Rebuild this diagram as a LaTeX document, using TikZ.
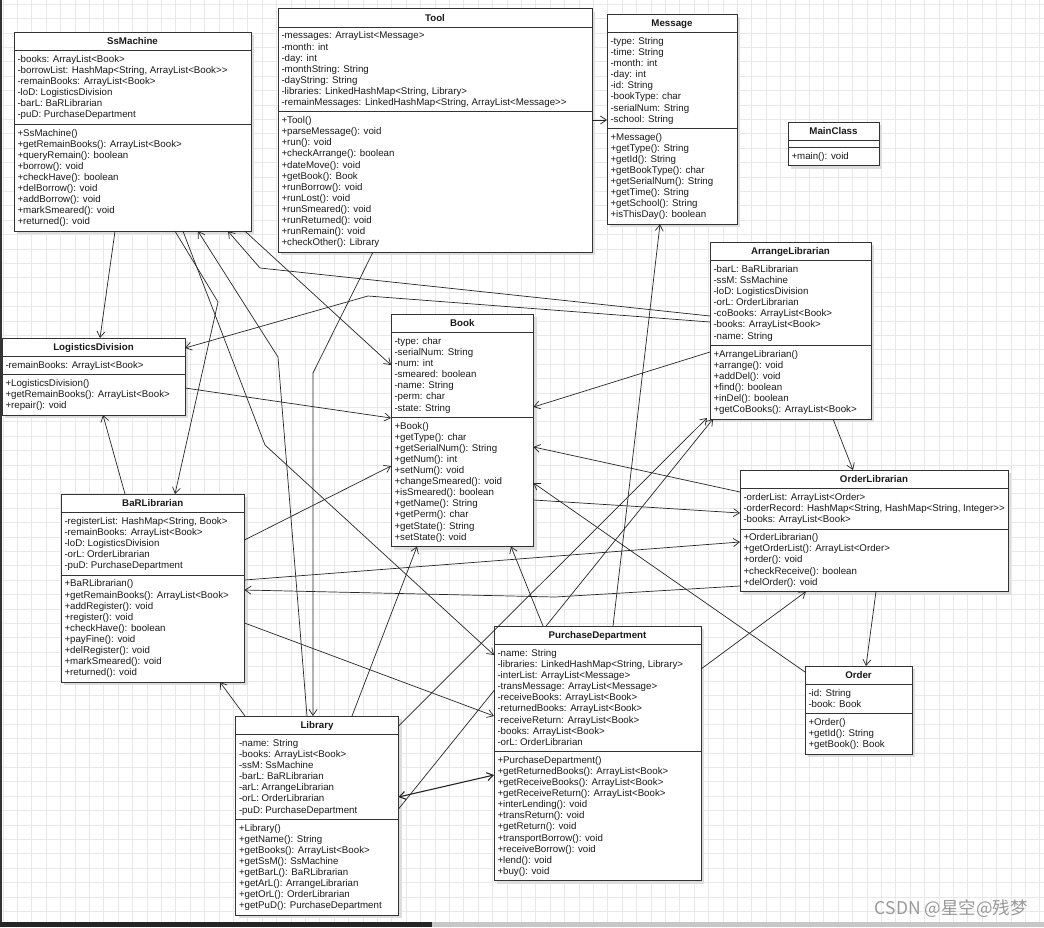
\documentclass[tikz,border=0pt]{standalone}
\usepackage{fontspec}
\setmainfont{Liberation Sans}[Ligatures=TeXOff]
\newfontfamily\cjkfont{Noto Sans CJK SC}
\usetikzlibrary{arrows.meta,calc}
\definecolor{gridc}{HTML}{E8E8E8}
\definecolor{boxline}{HTML}{333333}
\definecolor{shadowc}{HTML}{DDDDDD}
\tikzset{
  classbox/.style={draw=boxline, line width=0.9pt, fill=white, rectangle, inner sep=0pt, outer sep=0pt},
  member/.style={inner sep=0pt, font=\fontsize{9.72}{11.1}\selectfont, text=black!90},
  ctitle/.style={inner sep=0pt, font=\fontsize{9.72}{11.1}\selectfont\bfseries, text=black!90},
  divider/.style={draw=boxline, line width=0.9pt},
  assoc/.style={draw=black!85, line width=0.7pt, -{Straight Barb[length=6pt,width=8pt]}},
  biassoc/.style={draw=black!85, line width=1.1pt, {Straight Barb[length=6pt,width=8pt]}-{Straight Barb[length=6pt,width=8pt]}},
}
% #1 name, #2 x, #3 y, #4 width, #5 n attrs, #6 n methods, #7 title, #8 attrs, #9 methods
\newcommand\umlclass[9]{%
  \pgfmathsetmacro\uha{11.1*#5+7}%
  \pgfmathsetmacro\uhm{11.1*#6+7}%
  \pgfmathsetmacro\uht{18.7+\uha+\uhm}%
  \fill[shadowc] ({#2+3},{#3+3}) rectangle ++(#4,\uht);
  \node[classbox, minimum width=#4pt, minimum height=\uht pt, anchor=north west] (#1) at (#2,#3) {};
  \node[ctitle, anchor=base] (#1-title) at ({#2+#4/2},{#3+12.7}) {#7};
  \draw[divider] (#2,{#3+18.7}) -- ++(#4,0);
  \draw[divider] (#2,{#3+18.7+\uha}) -- ++(#4,0);
  \ifnum#5>0
  \foreach \tx [count=\ti] in {#8} {\node[member, anchor=base west] (#1-a\ti) at ({#2+3.3},{#3+18.7+11.7+(\ti-1)*11.1}) {\tx};}
  \fi
  \foreach \tx [count=\ti] in {#9} {\node[member, anchor=base west] (#1-m\ti) at ({#2+3.3},{#3+18.7+\uha+11.7+(\ti-1)*11.1}) {\tx};}
}
\begin{document}
\begin{tikzpicture}[x=1pt,y=-1pt]
\useasboundingbox (0,0) rectangle (1044,927);
\fill[white] (0,0) rectangle (1044,927);
\foreach \gx in {2.9,17.3,...,1044} \draw[gridc, line width=0.6pt] (\gx,0) -- (\gx,927);
\foreach \gy in {4,18.4,...,927} \draw[gridc, line width=0.6pt] (0,\gy) -- (1044,\gy);
\fill[black!80] (0,0) rectangle (2,927);
\fill[black!85] (0,921.5) rectangle (432,927);
\fill[black!22] (432,921.5) rectangle (1044,927);

\umlclass{ss}{14}{32}{237}{6}{9}{SsMachine}
 {-books: ArrayList<Book>, {-borrowList: HashMap<String, ArrayList<Book>>}, -remainBooks: ArrayList<Book>, -loD: LogisticsDivision, -barL: BaRLibrarian, -puD: PurchaseDepartment}
 {+SsMachine(), +getRemainBooks(): ArrayList<Book>, +queryRemain(): boolean, +borrow(): void, +checkHave(): boolean, +delBorrow(): void, +addBorrow(): void, +markSmeared(): void, +returned(): void}

\umlclass{tool}{278}{8.5}{314}{7}{12}{Tool}
 {-messages: ArrayList<Message>, -month: int, -day: int, -monthString: String, -dayString: String, {-libraries: LinkedHashMap<String, Library>}, {-remainMessages: LinkedHashMap<String, ArrayList<Message>>}}
 {+Tool(), +parseMessage(): void, +run(): void, +checkArrange(): boolean, +dateMove(): void, +getBook(): Book, +runBorrow(): void, +runLost(): void, +runSmeared(): void, +runReturned(): void, +runRemain(): void, +checkOther(): Library}

\umlclass{msg}{607}{14}{130}{8}{8}{Message}
 {-type: String, -time: String, -month: int, -day: int, -id: String, -bookType: char, -serialNum: String, -school: String}
 {+Message(), +getType(): String, +getId(): String, +getBookType(): char, +getSerialNum(): String, +getTime(): String, +getSchool(): String, +isThisDay(): boolean}

\umlclass{main}{788}{122}{91}{0}{1}{MainClass}
 {}
 {+main(): void}

\umlclass{al}{710}{242}{161}{7}{6}{ArrangeLibrarian}
 {-barL: BaRLibrarian, -ssM: SsMachine, -loD: LogisticsDivision, -orL: OrderLibrarian, -coBooks: ArrayList<Book>, -books: ArrayList<Book>, -name: String}
 {+ArrangeLibrarian(), +arrange(): void, +addDel(): void, +find(): boolean, +inDel(): boolean, +getCoBooks(): ArrayList<Book>}

\umlclass{ld}{2}{338}{183}{1}{3}{LogisticsDivision}
 {-remainBooks: ArrayList<Book>}
 {+LogisticsDivision(), +getRemainBooks(): ArrayList<Book>, +repair(): void}

\umlclass{bk}{391}{314}{142.5}{7}{11}{Book}
 {-type: char, -serialNum: String, -num: int, -smeared: boolean, -name: String, -perm: char, -state: String}
 {+Book(), +getType(): char, +getSerialNum(): String, +getNum(): int, +setNum(): void, +changeSmeared(): void, +isSmeared(): boolean, +getName(): String, +getPerm(): char, +getState(): String, +setState(): void}

\umlclass{bar}{61}{494}{183.5}{5}{9}{BaRLibrarian}
 {{-registerList: HashMap<String, Book>}, -remainBooks: ArrayList<Book>, -loD: LogisticsDivision, -orL: OrderLibrarian, -puD: PurchaseDepartment}
 {+BaRLibrarian(), +getRemainBooks(): ArrayList<Book>, +addRegister(): void, +register(): void, +checkHave(): boolean, +payFine(): void, +delRegister(): void, +markSmeared(): void, +returned(): void}

\umlclass{ol}{740}{470}{268}{3}{5}{OrderLibrarian}
 {-orderList: ArrayList<Order>, {-orderRecord: HashMap<String, HashMap<String, Integer>>}, -books: ArrayList<Book>}
 {+OrderLibrarian(), +getOrderList(): ArrayList<Order>, +order(): void, +checkReceive(): boolean, +delOrder(): void}

\umlclass{lib}{235.5}{716}{163}{7}{8}{Library}
 {-name: String, -books: ArrayList<Book>, -ssM: SsMachine, -barL: BaRLibrarian, -arL: ArrangeLibrarian, -orL: OrderLibrarian, -puD: PurchaseDepartment}
 {+Library(), +getName(): String, +getBooks(): ArrayList<Book>, +getSsM(): SsMachine, +getBarL(): BaRLibrarian, +getArL(): ArrangeLibrarian, +getOrL(): OrderLibrarian, +getPuD(): PurchaseDepartment}

\umlclass{ord}{805}{666}{107}{2}{3}{Order}
 {-id: String, -book: Book}
 {+Order(), +getId(): String, +getBook(): Book}

% this connector runs beneath the PurchaseDepartment box
\draw[assoc] ($(lib.north east)+(0,93)$) -- ($(al.south west)+(3,0)$);

\umlclass{pd}{494}{626}{207}{9}{11}{PurchaseDepartment}
 {-name: String, {-libraries: LinkedHashMap<String, Library>}, -interList: ArrayList<Message>, -transMessage: ArrayList<Message>, -receiveBooks: ArrayList<Book>, -returnedBooks: ArrayList<Book>, -receiveReturn: ArrayList<Book>, -books: ArrayList<Book>, -orL: OrderLibrarian}
 {+PurchaseDepartment(), +getReturnedBooks(): ArrayList<Book>, +getReceiveBooks(): ArrayList<Book>, +getReceiveReturn(): ArrayList<Book>, +interLending(): void, +transReturn(): void, +getReturn(): void, +transportBorrow(): void, +receiveBorrow(): void, +lend(): void, +buy(): void}

% connectors
\draw[assoc] ($(ss.south west)+(101,0)$) -- ($(ld.north west)+(98,0)$);
\draw[assoc] ($(ss.south west)+(169,0)$) -- (265,445) -- ($(pd.north west)+(0,29)$);
\draw[assoc] ($(ss.south west)+(161,0)$) -- (218,302) -- ($(bar.north west)+(114,0)$);
\draw[assoc] ($(ss.south west)+(231,0)$) -- ($(bk.north west)+(0,51)$);
\draw[assoc] ($(lib.north west)+(71.5,0)$) -- (278,357) -- ($(ss.south west)+(184,0)$);
\draw[assoc] ($(al.north west)+(0,74)$) -- (260,268) -- ($(ss.south west)+(214,0)$);
\draw[assoc] ($(al.north west)+(0,80)$) -- (368,296) -- ($(ld.north east)+(0,10)$);
\draw[assoc] ($(al.north west)+(0,110)$) -- ($(bk.north east)+(0,93)$);
\draw[assoc] ($(al.south west)+(123,0)$) -- ($(ol.north west)+(113,0)$);
\draw[assoc] ($(tool.north east)+(0,111.5)$) -- ($(msg.north west)+(0,106)$);
\draw[assoc] ($(tool.south west)+(95,0)$) -- (313,373) -- ($(lib.north west)+(77.5,0)$);
\draw[assoc] ($(ld.north east)+(0,50)$) -- ($(bk.north west)+(0,104)$);
\draw[assoc] ($(bar.north west)+(64,0)$) -- ($(ld.south west)+(101,0)$);
\draw[assoc] ($(bar.north east)+(0,46)$) -- ($(bk.north west)+(0,152)$);
\draw[assoc] ($(bar.north east)+(0,86)$) -- ($(ol.north west)+(0,72)$);
\draw[assoc] ($(ol.north west)+(0,116)$) -- (555,597) -- ($(bar.north east)+(0,96)$);
\draw[assoc] ($(bar.north east)+(0,129)$) -- ($(pd.north west)+(0,90)$);
\draw[assoc] ($(ol.north west)+(0,22)$) -- ($(bk.north east)+(0,133)$);
\draw[assoc] ($(bk.north east)+(0,186)$) -- ($(ol.north west)+(0,43)$);
\draw[assoc] ($(ol.south west)+(136,0)$) -- ($(ord.north west)+(61,0)$);
\draw[assoc] ($(ord.north west)+(0,6)$) -- ($(bk.north east)+(0,169)$);
\draw[assoc] ($(lib.north west)+(116.5,0)$) -- ($(bk.south west)+(26,0)$);
\draw[assoc] ($(lib.north west)+(9.5,0)$) -- ($(bar.south west)+(159,0)$);
\draw[assoc] ($(lib.north east)+(0,10)$) -- ($(al.south west)+(-3,-1)$);
\draw[biassoc] ($(lib.north east)+(0,81)$) -- ($(pd.north west)+(0,149)$);
\draw[assoc] ($(pd.north west)+(49,0)$) -- ($(bk.south west)+(120,0)$);
\draw[assoc] ($(pd.north west)+(119,0)$) -- ($(msg.south west)+(53,0)$);
\draw[assoc] ($(pd.north east)+(0,43)$) -- ($(ol.south west)+(66,0)$);

\node[text=black!40, font=\cjkfont\fontsize{17.5}{17.5}\selectfont, anchor=east, inner sep=0pt] (wm) at (1028,909) {CSDN @星空@残梦};
\end{tikzpicture}
\end{document}
